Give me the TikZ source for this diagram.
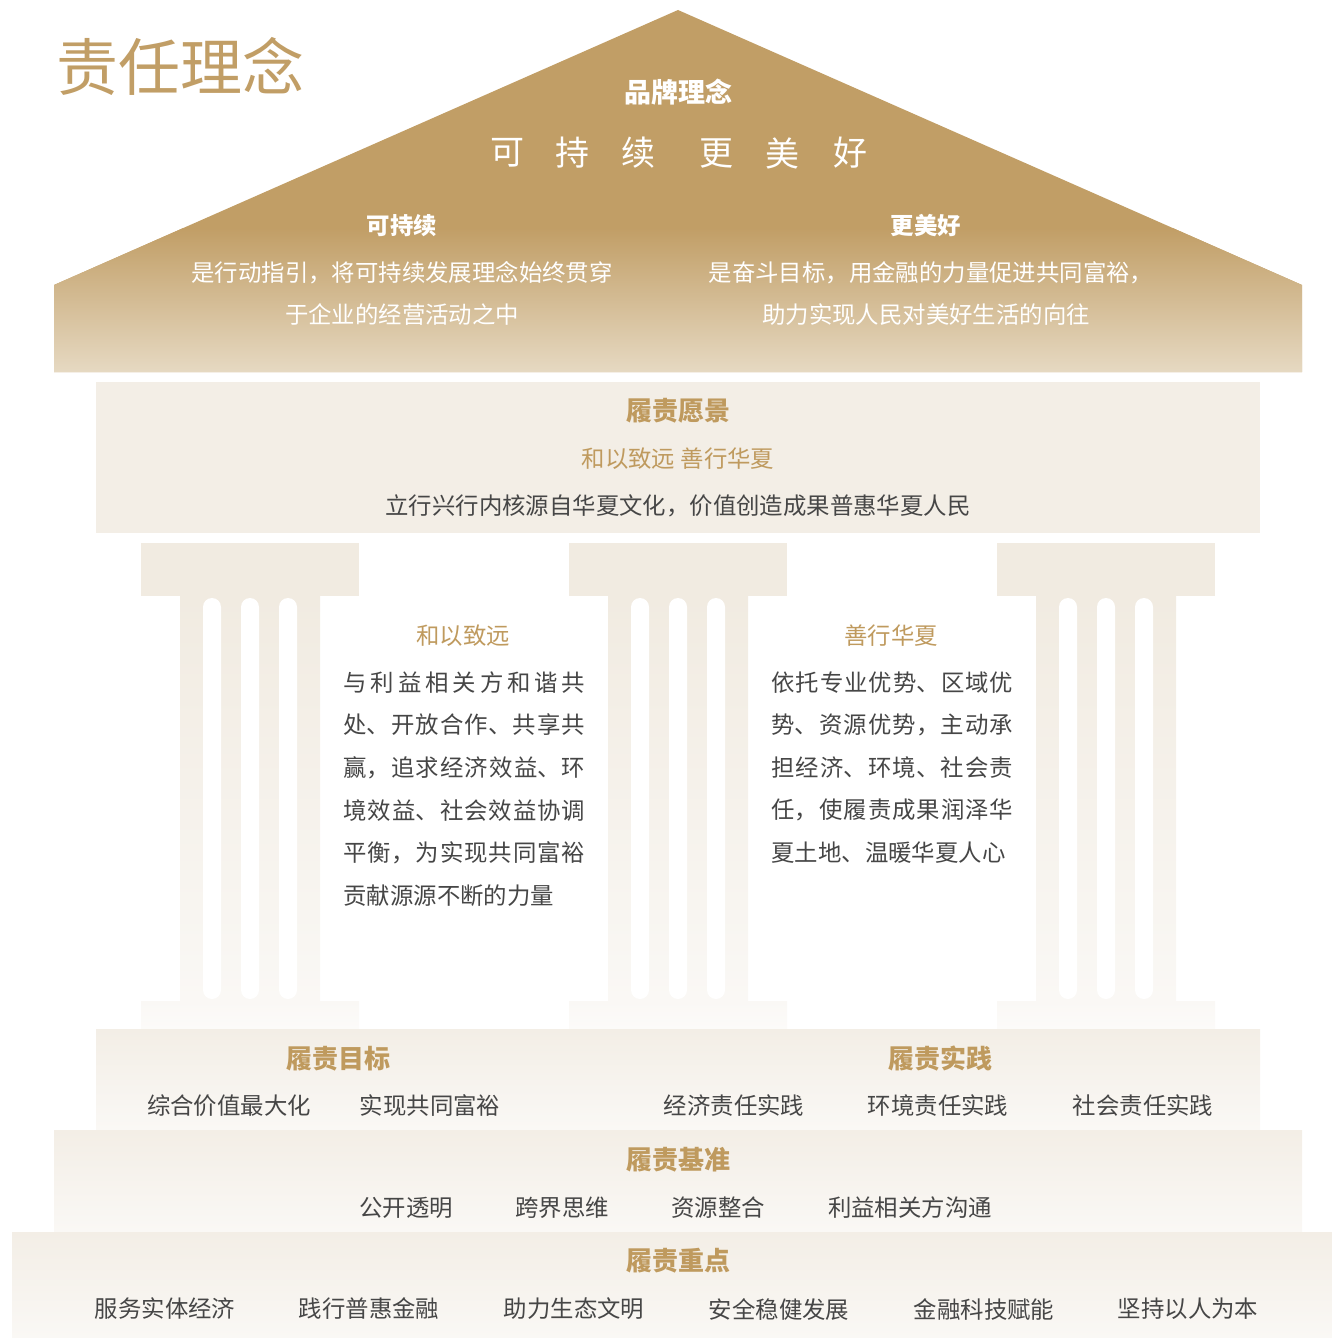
\documentclass[tikz,border=0pt]{standalone}
\usepackage{fontspec}
\setmainfont{Noto Sans CJK SC}
\XeTeXlinebreaklocale "zh"
\XeTeXlinebreakskip=0pt plus 3pt
\usetikzlibrary{calc}
\definecolor{gold}{HTML}{C19E66}
\definecolor{goldtxt}{HTML}{BF9A5E}
\definecolor{rooflow}{HTML}{E6D9C2}
\definecolor{beige}{HTML}{F3EEE6}
\definecolor{beigelow}{HTML}{FAF8F5}
\definecolor{capcol}{HTML}{F1EBE1}
\definecolor{ink}{HTML}{464646}
\tikzset{
  title/.style={font=\fontsize{31pt}{36pt}\selectfont, text=gold},
  roofhead/.style={font=\bfseries\fontsize{13.5pt}{16pt}\selectfont, text=white},
  slogan/.style={font=\fontsize{17pt}{20pt}\selectfont, text=white},
  roofsub/.style={font=\bfseries\fontsize{11.7pt}{14pt}\selectfont, text=white},
  rooftext/.style={font=\fontsize{11.7pt}{14pt}\selectfont, text=white},
  bandhead/.style={font=\bfseries\fontsize{13pt}{16pt}\selectfont, text=goldtxt},
  goldtext/.style={font=\fontsize{11.7pt}{14pt}\selectfont, text=goldtxt},
  item/.style={font=\fontsize{11.7pt}{14pt}\selectfont, text=ink},
  body/.style={item, font=\fontsize{11.7pt}{21.3pt}\selectfont, inner sep=0pt,
    anchor=north west, text width=121pt, align=justify},
  band/.style={top color=beige, bottom color=beigelow}
}

\begin{document}
\begin{tikzpicture}[x=0.5pt,y=-0.5pt]
  \useasboundingbox (0,0) rectangle (1332,1338);
  % roof
  \fill[gold] (54,285) -- (678,10) -- (1302,285) -- (1302,372) -- (54,372) -- cycle;
  \begin{scope}
    \clip (54,285) -- (678,10) -- (1302,285) -- (1302,372) -- (54,372) -- cycle;
    \shade[top color=gold, bottom color=rooflow] (54,228) rectangle (1302,372);
  \end{scope}
  \node[title] (title) at (180,66) {责任理念};
  \node[roofhead] (brand) at (678,92) {品牌理念};
  \foreach \c/\x [count=\i] in {可/507,持/572,续/638,更/716,美/782,好/850}
    \node[slogan] (slogan\i) at (\x,153) {\c};
  \node[roofsub] (sus) at (402,226) {可持续};
  \node[rooftext] (susA) at (402,273) {是行动指引，将可持续发展理念始终贯穿};
  \node[rooftext] (susB) at (402,315) {于企业的经营活动之中};
  \node[roofsub] (bet) at (926,226) {更美好};
  \node[rooftext] (betA) at (931,273) {是奋斗目标，用金融的力量促进共同富裕，};
  \node[rooftext] (betB) at (926,315) {助力实现人民对美好生活的向往};

  % vision
  \fill[beige] (96,382) rectangle (1260,533);
  \node[bandhead] (vision) at (678,411) {履责愿景};
  \node[goldtext] (visionA) at (678,459) {和以致远 善行华夏};
  \node[item] (visionB) at (678,506) {立行兴行内核源自华夏文化，价值创造成果普惠华夏人民};

  % pillars
  \foreach \x in {141,569,997} {
    \shade[top color=beigelow, bottom color=white] (\x,1001) rectangle ++(218,68);
    \fill[capcol] (\x,543) rectangle ++(218,53);
    \shade[top color=capcol, bottom color=beigelow] (\x+39,596) rectangle (\x+179,1001);
    \foreach \d in {62,100,138}
      \fill[white, rounded corners=4.5pt] (\x+\d,598) rectangle ++(18,401);
  }
  \node[goldtext] (harmony) at (463,636) {和以致远};
  \node[body] (harmonyA) at (343,671) {与利益相关方和谐共处、开放合作、共享共赢，追求经济效益、环境效益、社会效益协调平衡，为实现共同富裕贡献源源不断的力量};
  \node[goldtext] (virtue) at (891,636) {善行华夏};
  \node[body] (virtueA) at (771,671) {依托专业优势、区域优势、资源优势，主动承担经济、环境、社会责任，使履责成果润泽华夏土地、温暖华夏人心};

  % bands
  \shade[band] (96,1029) rectangle (1260,1129);
  \shade[band] (54,1130) rectangle (1302,1231);
  \shade[band] (12,1232) rectangle (1332,1338);

  \node[bandhead] (goal) at (338,1059) {履责目标};
  \node[item] (goalA) at (229,1106) {综合价值最大化};
  \node[item] (goalB) at (430,1106) {实现共同富裕};
  \node[bandhead] (practice) at (940,1059) {履责实践};
  \foreach \t/\x [count=\i] in {经济责任实践/734,环境责任实践/938,社会责任实践/1143}
    \node[item] (practice\i) at (\x,1106) {\t};

  \node[bandhead] (basis) at (678,1160) {履责基准};
  \foreach \t/\x [count=\i] in {公开透明/406,跨界思维/562,资源整合/718,利益相关方沟通/910}
    \node[item] (basis\i) at (\x,1208) {\t};

  \node[bandhead] (focus) at (678,1261) {履责重点};
  \foreach \t/\x [count=\i] in {服务实体经济/165,践行普惠金融/369,助力生态文明/574,安全稳健发展/779,金融科技赋能/984,坚持以人为本/1188}
    \node[item] (focus\i) at (\x,1309) {\t};
\end{tikzpicture}
\end{document}
